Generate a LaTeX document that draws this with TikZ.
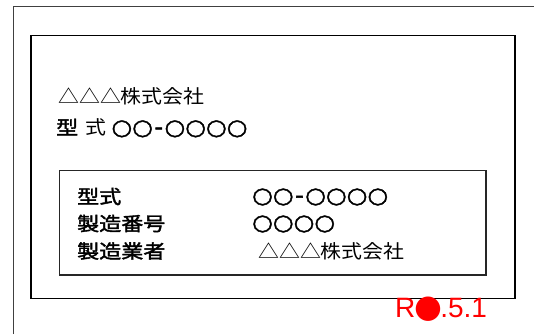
\documentclass[tikz,border=0pt]{standalone}
\usepackage{fontspec}
\setmainfont{Liberation Sans}
\newfontfamily\jp[FakeStretch=1.1]{Noto Sans CJK JP}
\newfontfamily\jpb[FakeStretch=1.16,FakeBold=2]{Noto Sans CJK JP}
\newfontfamily\circf[FakeStretch=1.08,FakeBold=1.8]{DejaVu Sans}
\newfontfamily\symf{DejaVu Sans}
\newcommand{\circs}[1]{{\circf\fontsize{22}{22}\selectfont #1}}
\newcommand{\dsh}{\kern1.5pt-\kern1.5pt}
\tikzset{
  jptext/.style={inner sep=0pt, anchor=west, font=\jp\fontsize{19}{19}\selectfont},
  jpbold/.style={inner sep=0pt, anchor=west, font=\jpb\fontsize{19}{19}\selectfont},
  redtext/.style={inner sep=0pt, anchor=base west, text=red, font=\fontsize{28}{28}\selectfont},
}
\begin{document}
\begin{tikzpicture}[x=1pt,y=-1pt]
\useasboundingbox (0,0) rectangle (534,334);
% outer frame (partial)
\draw[draw=black!75, line width=1pt] (13.5,334) -- (13.5,7) -- (534,7);
% plate
\draw[line width=1.8pt] (31,35.5) rectangle (515,298.5);
% inner label box
\draw[line width=1.3pt, draw=black!85] (59.5,170.5) rectangle (486,275);
% texts
\node[jptext] (maker) at (58,96.5) {△△△株式会社};
\node[jptext] (model) at (56,128) {{\jpb 型} \hspace{3pt}式 \circs{○○\dsh○○○○}};
\node[jpbold] (l1) at (77,196.5) {型式};
\node[jpbold] (l2) at (77,223.5) {製造番号};
\node[jpbold] (l3) at (77,251) {製造業者};
\node[jptext] (v1) at (252,197) {\circs{○○\dsh○○○○}};
\node[jptext] (v2) at (252,224) {\circs{○○○○}};
\node[jptext] (v3) at (258,251.5) {△△△株式会社};
\node[redtext] (rev) at (395,317) {R\kern-1pt{\symf\fontsize{32}{32}\selectfont ●}\kern-2pt.5.1};
\end{tikzpicture}
\end{document}
